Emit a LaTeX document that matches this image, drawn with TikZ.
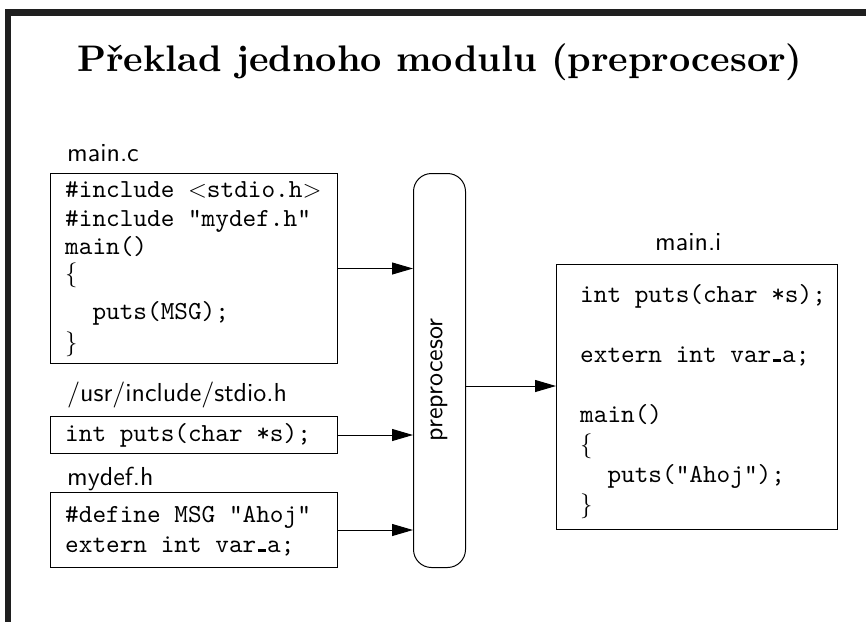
\documentclass[tikz,border=0pt]{standalone}
\usepackage{fontspec}
\usetikzlibrary{arrows.meta}
% 10pt design sizes of Latin Modern, scaled up
\newfontfamily\codefont{lmmono10-regular.otf}
\newfontfamily\labelfont{lmsans10-regular.otf}
\newfontfamily\titlefont{lmroman10-bold.otf}
% low underscore as in the classic \_ of Computer Modern
\newcommand{\lowus}{\kern.06em\rule{0.3em}{0.1em}\kern.06em}
\begin{document}
\begin{tikzpicture}[x=1pt,y=-1pt,
  lbl/.style={anchor=base west, inner sep=0pt, font=\fontsize{26}{30}\selectfont\labelfont},
  code/.style={anchor=base west, inner sep=0pt, font=\fontsize{26}{30}\selectfont\codefont},
  filebox/.style={draw, line width=1pt, anchor=north west, inner sep=0pt},
  flow/.style={draw, line width=1pt, -{Triangle[length=21pt,width=12pt]}}]
\useasboundingbox (0,0) rectangle (867,622);

% frame bars
\fill[black!88] (5,9) rectangle (866,16);
\fill[black!88] (5,9) rectangle (11,622);

% title
\node[anchor=base west, inner sep=0pt, font=\fontsize{37}{42}\selectfont\titlefont] (title) at (77,71) {Překlad jednoho modulu (preprocesor)};

% source files
\node[lbl] (lmainc) at (67,161) {main.c};
\node[filebox, minimum width=287pt, minimum height=190pt] (mainc) at (50,173) {};
\node[code] (c1) at (65,197) {\#include $<$stdio.h$>$};
\node[code] (c2) at (65,226) {\#include "mydef.h"};
\node[code] (c3) at (65,254) {main()};
\node[code] (c4) at (65,281) {$\{$};
\node[code] (c5) at (65,319) {\ \ puts(MSG);};
\node[code] (c6) at (65,350) {$\}$};

\node[lbl] (lstdio) at (67,401) {/usr/include/stdio.h};
\node[filebox, minimum width=287pt, minimum height=37pt] (stdio) at (50,416) {};
\node[code] (s1) at (65,441) {int puts(char *s);};

\node[lbl] (lmydef) at (67,485) {mydef.h};
\node[filebox, minimum width=287pt, minimum height=75pt] (mydef) at (50,492) {};
\node[code] (m1) at (65,522) {\#define MSG "Ahoj"};
\node[code] (m2) at (65,552) {extern int var\lowus a;};

% preprocessor
\node[draw, line width=1pt, rounded corners=18pt, anchor=north west, minimum width=52pt, minimum height=394pt, inner sep=0pt] (pre) at (413,173) {};
\node[rotate=90, inner sep=0pt, font=\fontsize{26}{30}\selectfont\labelfont] (pretext) at (439,380) {preprocesor};

% output file
\node[lbl] (lmaini) at (655,250) {main.i};
\node[filebox, minimum width=281pt, minimum height=265pt] (maini) at (556,264) {};
\node[code] (i1) at (580,302) {int puts(char *s);};
\node[code] (i2) at (580,362) {extern int var\lowus a;};
\node[code] (i3) at (580,422) {main()};
\node[code] (i4) at (580,452) {$\{$};
\node[code] (i5) at (580,482) {\ \ puts("Ahoj");};
\node[code] (i6) at (580,512) {$\}$};

% connectors
\coordinate (out) at (465,386);
\draw[flow] (mainc.east) -- (mainc.east -| pre.west);
\draw[flow] (stdio.east) -- (stdio.east -| pre.west);
\draw[flow] (mydef.east) -- (mydef.east -| pre.west);
\draw[flow] (pre.east |- out) -- (maini.west |- out);
\end{tikzpicture}
\end{document}
